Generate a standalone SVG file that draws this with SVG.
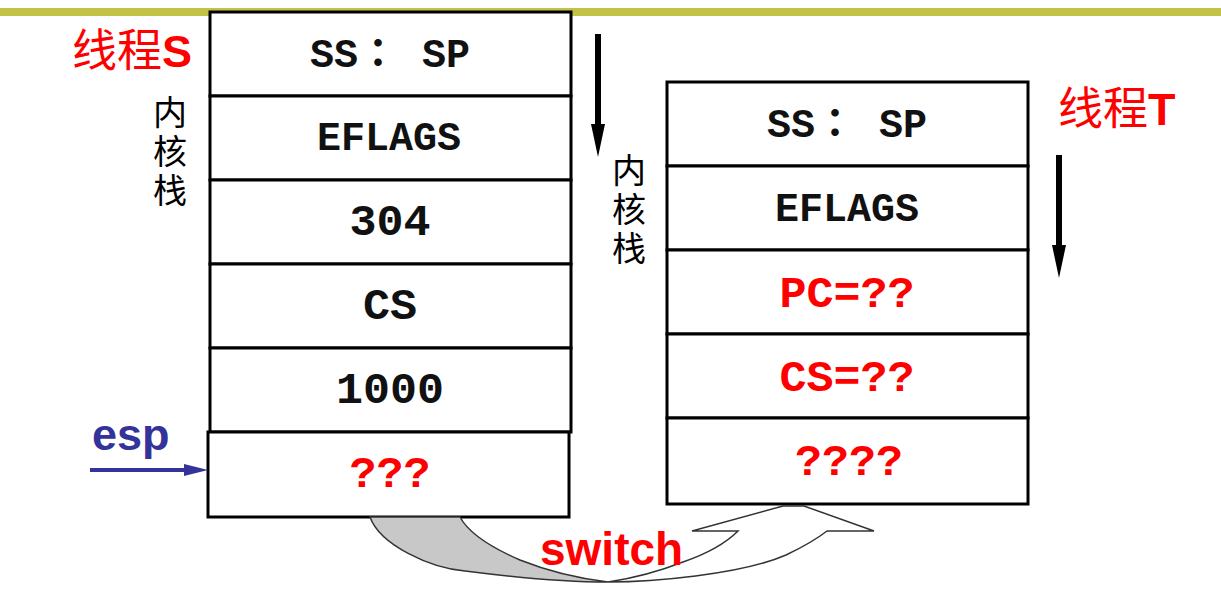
<svg xmlns="http://www.w3.org/2000/svg" width="1221" height="594" viewBox="0 0 1221 594">
<style>
.cell{fill:#fff;stroke:#000;stroke-width:3}
.m{font-family:"Liberation Mono","Courier New","Noto Sans CJK JP",monospace;font-weight:bold;text-anchor:middle}
.s{font-size:40px}
.l{font-size:45px}
.blk{fill:#111}
.red{fill:#ff0000}
.cjk{font-family:"Noto Sans CJK SC",sans-serif;font-size:34px;fill:#000;writing-mode:vertical-rl;letter-spacing:5px}
.ttl{font-family:"Noto Sans CJK SC",sans-serif;font-size:45px;fill:#ff0000}
.b{font-family:"Liberation Sans",Arial,sans-serif;font-weight:bold}
.arr{fill:#000}
</style>
<rect width="1221" height="594" fill="#fff"/>
<rect x="0" y="8" width="1221" height="8" fill="#c2c246"/>

<g id="stackS">
<rect class="cell" x="210" y="12" width="361" height="84"/>
<rect class="cell" x="210" y="96" width="361" height="84"/>
<rect class="cell" x="210" y="180" width="361" height="84"/>
<rect class="cell" x="210" y="264" width="361" height="84"/>
<rect class="cell" x="210" y="348" width="361" height="84"/>
<rect class="cell" x="208" y="432" width="361" height="85"/>
<text class="m s blk" x="390" y="67">SS： SP</text>
<text class="m s blk" x="389" y="150">EFLAGS</text>
<text class="m l blk" x="390" y="235">304</text>
<text class="m l blk" x="390" y="319">CS</text>
<text class="m l blk" x="390" y="403">1000</text>
<text class="m l red" x="390" y="487">???</text>
</g>

<g id="stackT">
<rect class="cell" x="667" y="82" width="361" height="84"/>
<rect class="cell" x="667" y="166" width="361" height="84"/>
<rect class="cell" x="667" y="250" width="361" height="84"/>
<rect class="cell" x="667" y="334" width="361" height="84"/>
<rect class="cell" x="667" y="418" width="361" height="86"/>
<text class="m s blk" x="847" y="137">SS： SP</text>
<text class="m s blk" x="847" y="221">EFLAGS</text>
<text class="m l red" x="847" y="307">PC=??</text>
<text class="m l red" x="847" y="391">CS=??</text>
<text class="m l red" x="849" y="475">????</text>
</g>

<g id="labelS">
<text class="ttl" x="72" y="67">线程<tspan class="b">S</tspan></text>
<text class="cjk" x="170" y="95">内核栈</text>
</g>

<g id="labelT">
<text class="ttl" x="1058" y="125">线程<tspan class="b">T</tspan></text>
<text class="cjk" x="629" y="153">内核栈</text>
</g>

<g id="esp">
<text class="b" x="92" y="450" font-size="45" fill="#333399">esp</text>
</g>

<g id="connectors">
<rect class="arr" x="595" y="34" width="6" height="92"/>
<polygon class="arr" points="591,124 605,124 598,157"/>
<rect class="arr" x="1056" y="155" width="6" height="92"/>
<polygon class="arr" points="1052,245 1066,245 1059,278"/>
<rect x="90" y="468" width="96" height="4" fill="#333399"/>
<polygon points="184,464 208,470 184,476" fill="#333399"/>
<path d="M370,517 C380,545 430,568 465,571 C520,578 570,582 608,582 C575,578 545,570 520,560 C490,547 468,532 460,517 Z" fill="#c8c8c8" stroke="#333" stroke-width="1.5"/>
<path d="M608,582 C650,582 740,575 786,555 C805,546 818,538 827,531 L874,531 L804,506 L783,506 L692,531 L738,531 C728,541 712,552 683,562 C660,571 635,578 608,582 Z" fill="#fff" stroke="#333" stroke-width="1.5"/>
</g>

<g id="switch">
<text class="b" x="540" y="565" font-size="46" fill="#ff0000">switch</text>
</g>
</svg>
